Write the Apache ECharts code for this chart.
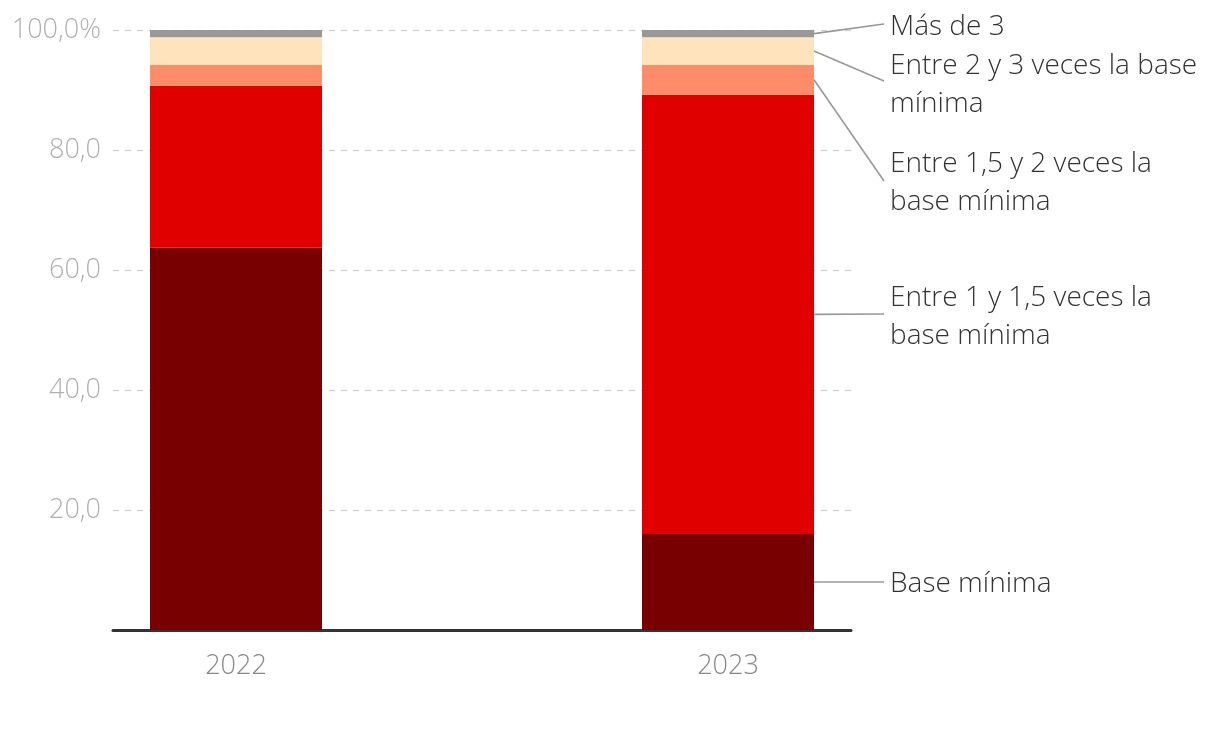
<!DOCTYPE html>
<html>
<head>
<meta charset="utf-8">
<script src="https://cdn.jsdelivr.net/npm/echarts@6/dist/echarts.min.js"></script>
<style>html,body{margin:0;padding:0;background:#fff}#c{width:1220px;height:744px}</style>
</head>
<body>
<div id="c"></div>
<script>
const years = ['2022', '2023'];
const seriesNames = ['Base mínima', 'Entre 1 y 1,5 veces la\nbase mínima', 'Entre 1,5 y 2 veces la\nbase mínima', 'Entre 2 y 3 veces la base\nmínima', 'Más de 3'];
const baseMinima = [63.7, 16.0];
const entre1y15 = [27.0, 73.2];
const entre15y2 = [3.5, 5.0];
const entre2y3 = [4.6, 4.6];
const masDe3 = [1.2, 1.2];
const yTicks = [0, 20, 40, 60, 80, 100];

const values = [baseMinima, entre1y15, entre15y2, entre2y3, masDe3];
const colors = ['#780000', '#e00000', '#ff8c69', '#fde4bc', '#9a9799'];
const labelY = [584, 317, 183, 85, 27];
const lineEndY = [582, 314, 181, 81, 24];
const FONT = "'Open Sans', sans-serif";
const BAR_W = 172;

// categories with an empty spacer between the two years
const cats = [years[0], '', years[1]];
const catIdx = [0, 2];

const chart = echarts.init(document.getElementById('c'));
const series = values.map((vals, si) => ({
  type: 'bar',
  name: seriesNames[si],
  stack: 'total',
  barWidth: BAR_W,
  itemStyle: { color: colors[si] },
  data: cats.map((c, ci) => {
    const k = catIdx.indexOf(ci);
    if (k < 0) return '-';
    return {
      value: vals[k],
      label: k === 1 ? {
        show: true, position: 'right', formatter: seriesNames[si],
        fontFamily: FONT, fontWeight: 300, fontSize: 28, lineHeight: 38, color: '#333'
      } : { show: false }
    };
  }),
  labelLayout: function (p) {
    if (p.dataIndex !== 2) return {};
    return { x: 890, y: labelY[p.seriesIndex], align: 'left', verticalAlign: 'middle' };
  },
  emphasis: { disabled: true },
  animation: false
}));

// leader lines: from the middle of each 2023 segment to its label
const leaderData = values.map((vals, si) => {
  let below = 0;
  for (let j = 0; j < si; j++) below += values[j][1];
  return [catIdx[1], below + vals[1] / 2, si];
});
series.push({
  type: 'custom',
  silent: true,
  data: leaderData,
  renderItem: function (params, api) {
    const p = api.coord([api.value(0), api.value(1)]);
    const x0 = p[0] + BAR_W / 2;
    return {
      type: 'line',
      shape: { x1: x0, y1: p[1], x2: 884, y2: lineEndY[api.value(2)] },
      style: { stroke: '#999', lineWidth: 1.6 }
    };
  },
  animation: false,
  z: 5
});

chart.setOption({
  animation: false,
  grid: { left: 113, right: 369, top: 30, bottom: 114 },
  xAxis: {
    type: 'category', data: cats,
    axisTick: { show: false },
    axisLine: { show: true, lineStyle: { color: '#333', width: 3 } },
    axisLabel: { fontFamily: FONT, fontWeight: 300, fontSize: 27, color: '#888', margin: 23 }
  },
  yAxis: {
    type: 'value', min: 0, max: 100, interval: 20,
    axisLine: { show: false }, axisTick: { show: false },
    splitLine: { show: true, lineStyle: { color: '#d0d0d0', type: [6, 6], width: 1.2 } },
    axisLabel: {
      formatter: v => v === 0 ? '' : (v === 100 ? '100,0%' : v.toFixed(1).replace('.', ',')),
      fontFamily: FONT, fontWeight: 300, fontSize: 27, color: '#b0b0b0', margin: 12
    }
  },
  series: series
});
</script>
</body>
</html>
